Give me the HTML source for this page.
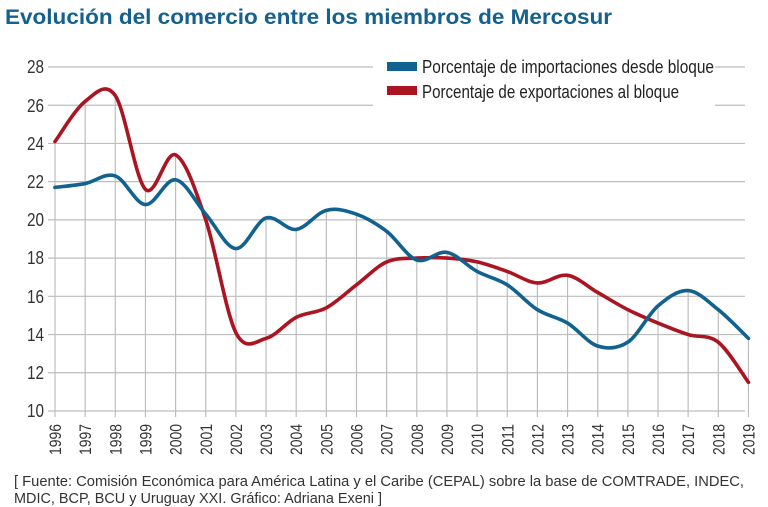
<!DOCTYPE html>
<html><head><meta charset="utf-8"><style>
html,body{margin:0;padding:0;background:#fff;width:768px;height:507px;overflow:hidden}
svg{display:block}
</style></head><body>
<svg id="s" width="768" height="507" xmlns="http://www.w3.org/2000/svg" font-family="'Liberation Sans Narrow','Liberation Sans',sans-serif">
<text x="5" y="24" font-family="'Liberation Sans',sans-serif" font-weight="bold" font-size="21" fill="#14608f" textLength="607" lengthAdjust="spacingAndGlyphs">Evolución del comercio entre los miembros de Mercosur</text>
<g id="grid" stroke="#bdbdbd" stroke-width="1.2"></g>
<g id="lines" fill="none" stroke-width="3.6" stroke-linecap="round" stroke-linejoin="round"></g>
<rect x="373" y="42" width="342" height="66" fill="#fff"/>
<rect x="387" y="62" width="30" height="9" fill="#11628f"/>
<rect x="387" y="86" width="30" height="9" fill="#ab1421"/>
<text x="422" y="73" font-size="18" fill="#222" textLength="292" lengthAdjust="spacingAndGlyphs">Porcentaje de importaciones desde bloque</text>
<text x="422" y="98" font-size="18" fill="#222" textLength="257" lengthAdjust="spacingAndGlyphs">Porcentaje de exportaciones al bloque</text>
<text x="14" y="486" font-family="'Liberation Sans',sans-serif" font-size="14.5" fill="#333" textLength="730" lengthAdjust="spacingAndGlyphs">[ Fuente: Comisión Económica para América Latina y el Caribe (CEPAL) sobre la base de COMTRADE, INDEC,</text>
<text x="14" y="503" font-family="'Liberation Sans',sans-serif" font-size="14.5" fill="#333" textLength="368" lengthAdjust="spacingAndGlyphs">MDIC, BCP, BCU y Uruguay XXI. Gráfico: Adriana Exeni ]</text>
<g font-size="18" fill="#333" text-anchor="end">
<text x="44" y="73" textLength="17" lengthAdjust="spacingAndGlyphs">28</text><text x="44" y="112" textLength="17" lengthAdjust="spacingAndGlyphs">26</text><text x="44" y="150" textLength="17" lengthAdjust="spacingAndGlyphs">24</text><text x="44" y="188" textLength="17" lengthAdjust="spacingAndGlyphs">22</text><text x="44" y="226" textLength="17" lengthAdjust="spacingAndGlyphs">20</text><text x="44" y="264" textLength="17" lengthAdjust="spacingAndGlyphs">18</text><text x="44" y="303" textLength="17" lengthAdjust="spacingAndGlyphs">16</text><text x="44" y="341" textLength="17" lengthAdjust="spacingAndGlyphs">14</text><text x="44" y="379" textLength="17" lengthAdjust="spacingAndGlyphs">12</text><text x="44" y="417" textLength="17" lengthAdjust="spacingAndGlyphs">10</text>
</g>
<g id="xl" font-size="17" fill="#333"></g>
</svg>
<script>
var NS="http://www.w3.org/2000/svg";
function Y(v){return 67+(28-v)*19.11;}
function X(i){return 55+i*30.15;}
var B=[21.7,21.9,22.3,20.8,22.1,20.3,18.5,20.1,19.5,20.5,20.3,19.4,17.9,18.3,17.3,16.6,15.3,14.6,13.4,13.6,15.5,16.3,15.3,13.8];
var R=[24.1,26.2,26.5,21.6,23.4,20.0,14.1,13.8,14.9,15.4,16.6,17.8,18.0,18.0,17.8,17.3,16.7,17.1,16.2,15.3,14.6,14.0,13.6,11.5];
var g=document.getElementById("grid");
function ln(x1,y1,x2,y2){var l=document.createElementNS(NS,"line");l.setAttribute("x1",x1);l.setAttribute("y1",y1);l.setAttribute("x2",x2);l.setAttribute("y2",y2);g.appendChild(l);}
for(var v=10;v<=28;v+=2)ln(48,Y(v),745,Y(v));
for(var i=0;i<24;i++)ln(X(i),Y(Math.max(B[i],R[i])),X(i),417);
var xl=document.getElementById("xl");
for(var i=0;i<24;i++){var t=document.createElementNS(NS,"text");t.setAttribute("transform","translate("+(X(i)+6)+",455) rotate(-90)");t.setAttribute("textLength","31");t.setAttribute("lengthAdjust","spacingAndGlyphs");t.textContent=String(1996+i);xl.appendChild(t);}
function path(d,c){var p=[];for(var i=0;i<d.length;i++)p.push([X(i),Y(d[i])]);
var s="M"+p[0][0]+","+p[0][1];
for(var i=0;i<p.length-1;i++){var p0=p[i-1]||p[i],p1=p[i],p2=p[i+1],p3=p[i+2]||p2;
s+=" C"+(p1[0]+(p2[0]-p0[0])/6)+","+(p1[1]+(p2[1]-p0[1])/6)+" "+(p2[0]-(p3[0]-p1[0])/6)+","+(p2[1]-(p3[1]-p1[1])/6)+" "+p2[0]+","+p2[1];}
var e=document.createElementNS(NS,"path");e.setAttribute("d",s);e.setAttribute("stroke",c);document.getElementById("lines").appendChild(e);}
path(R,"#ab1421");path(B,"#11628f");
</script>
</body></html>
